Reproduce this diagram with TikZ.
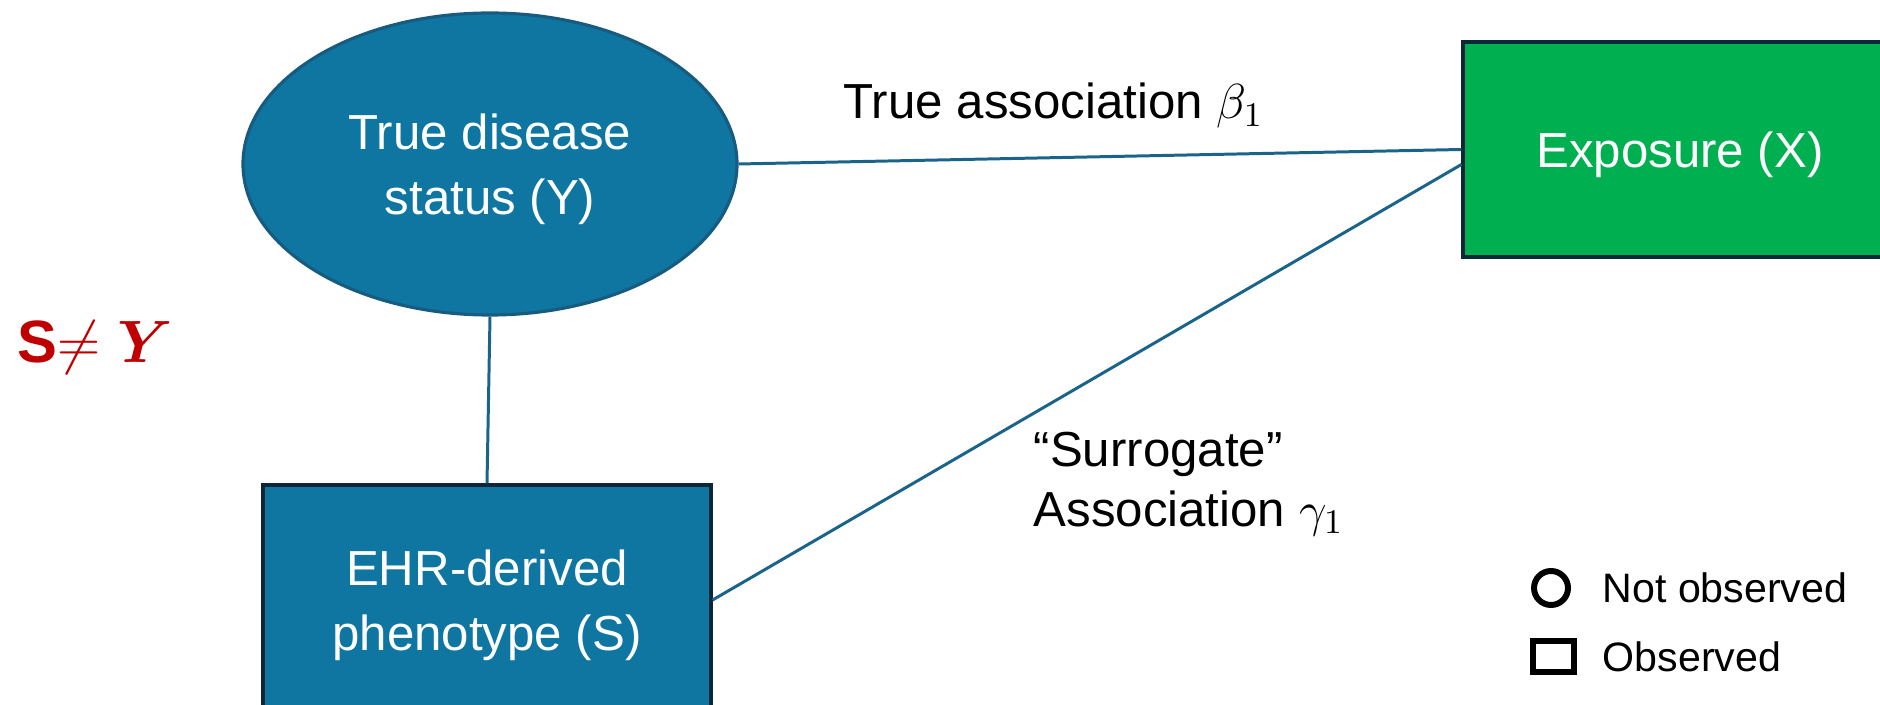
\RequirePackage{fix-cm}
\documentclass[tikz,border=0pt]{standalone}
\usepackage{amsmath}
\usepackage{bm}
\usepackage[no-math]{fontspec}
\setmainfont{Liberation Sans}
\usetikzlibrary{shapes.geometric}
\definecolor{nodeblue}{HTML}{0E76A0}
\definecolor{nodeblueline}{HTML}{175C80}
\definecolor{boxline}{HTML}{0B2636}
\definecolor{expgreen}{HTML}{00B050}
\definecolor{linkblue}{HTML}{1B6489}
\definecolor{warnred}{HTML}{C00000}
\tikzset{
  latent/.style={ellipse, draw=nodeblueline, fill=nodeblue, line width=0.9pt,
                 minimum width=4.94cm, minimum height=3.02cm, inner sep=0pt,
                 text=white, align=center, text depth=0pt, font=\fontsize{14}{18.5}\selectfont},
  observed/.style={rectangle, draw=boxline, fill=nodeblue, line width=0.9pt,
                   minimum width=4.48cm, minimum height=2.30cm, inner sep=0pt,
                   text=white, align=center, text depth=0pt, font=\fontsize{14}{18.5}\selectfont},
  exposure/.style={observed, fill=expgreen, minimum width=4.34cm, minimum height=2.15cm},
  link/.style={draw=linkblue, line width=0.85pt},
  lbl/.style={font=\fontsize{14}{17}\selectfont, inner sep=0pt, align=left},
  legtext/.style={font=\fontsize{11.7}{14}\selectfont, inner sep=0pt, anchor=west},
}
\begin{document}
\begin{tikzpicture}
    \useasboundingbox (0,0) rectangle (18.8,-7.05);
    % variables
    \node[latent] (y) at (4.90,-1.64) {True disease\\status (Y)};
    \node[observed] (s) at (4.87,-6.00) {EHR-derived\\phenotype (S)};
    \node[exposure] (x) at (16.80,-1.495) {Exposure (X)};
    % associations
    \draw[link] (y.east) -- (x.west);
    \draw[link] (y.south) -- (s.north);
    \draw[link] (s.east) -- ([yshift=-1.5mm]x.west);
    \node[lbl, anchor=base west] (beta) at (8.43,-1.19) {True association $\beta_1$};
    \node[lbl, anchor=west] (gamma) at (10.33,-4.84) {“Surrogate”\\Association $\gamma_1$};
    \node[font=\fontsize{17}{19}\selectfont\bfseries, text=warnred, anchor=west, inner sep=0pt] (neq) at (0.17,-3.47) {S$\neq$ $\bm{Y}$};
    % legend
    \node[draw, circle, line width=1.7pt, minimum size=0.34cm, inner sep=0pt] (notobs) at (15.51,-5.88) {};
    \node[legtext] (notobslbl) at (16.02,-5.88) {Not observed};
    \node[draw, rectangle, line width=1.7pt, minimum width=0.41cm, minimum height=0.31cm, inner sep=0pt] (obs) at (15.535,-6.565) {};
    \node[legtext] (obslbl) at (16.02,-6.57) {Observed};
  \end{tikzpicture}
\end{document}
